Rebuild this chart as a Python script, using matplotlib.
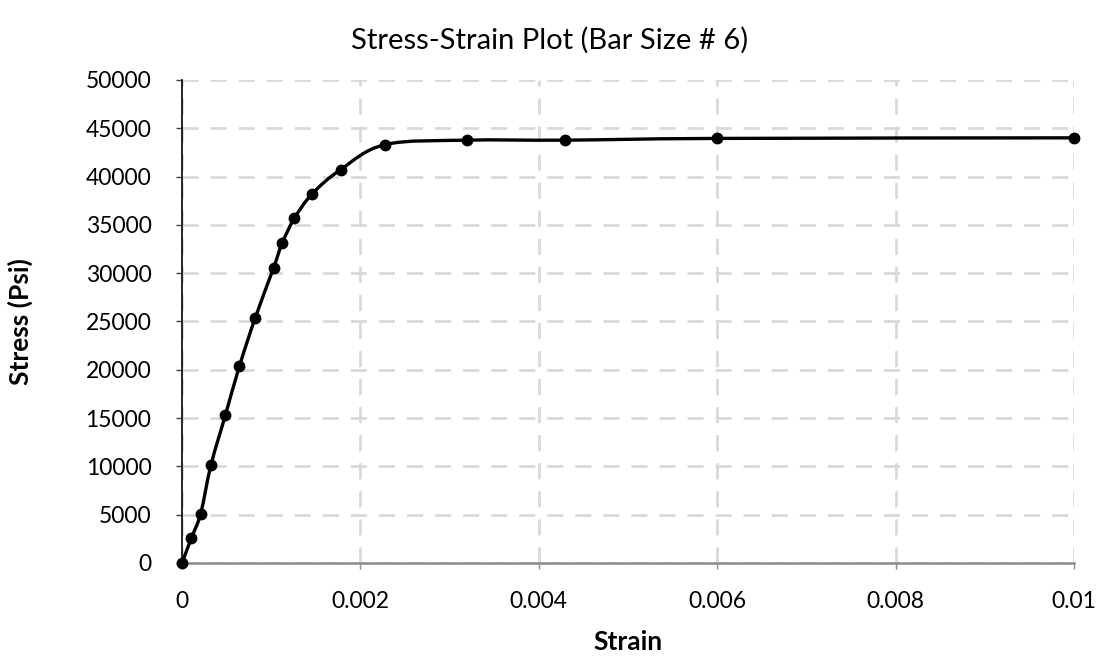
import numpy as np
import matplotlib.pyplot as plt
from matplotlib.path import Path
from matplotlib.patches import PathPatch

# datos
strain = [0, 0.000105, 0.000209, 0.000325, 0.000486, 0.000643, 0.000822,
          0.001028, 0.001122, 0.00126, 0.00146, 0.00178, 0.00228,
          0.0032, 0.00429, 0.0060, 0.01]
stress = [0, 2580, 5100, 10150, 15290, 20350, 25410,
          30580, 33090, 35680, 38220, 40730, 43320,
          43770, 43770, 43950, 44010]

x_ticks = [0, 0.002, 0.004, 0.006, 0.008, 0.01]
x_labels = ['0', '0.002', '0.004', '0.006', '0.008', '0.01']
y_ticks = list(range(0, 50001, 5000))

plt.rcParams['font.family'] = ['Lato', 'DejaVu Sans']

fig = plt.figure(figsize=(10.99, 6.61), dpi=100)
ax = fig.add_axes([0.1656, 0.1483, 0.8117, 0.7307])


# linea suavizada tipo excel (bezier cardinal)
def suave(xs, ys, t=1 / 6):
    pts = np.column_stack([xs, ys]).astype(float)
    verts = [pts[0]]
    codes = [Path.MOVETO]
    n = len(pts)
    for i in range(n - 1):
        p0 = pts[i - 1] if i > 0 else pts[i]
        p1, p2 = pts[i], pts[i + 1]
        p3 = pts[i + 2] if i + 2 < n else pts[i + 1]
        c1 = p1 + (p2 - p0) * t
        c2 = p2 - (p3 - p1) * t
        verts += [c1, c2, p2]
        codes += [Path.CURVE4] * 3
    return Path(verts, codes)


ax.add_patch(PathPatch(suave(strain, stress), fill=False, edgecolor='black',
                       lw=2.4, zorder=3, capstyle='round', joinstyle='round'))
ax.plot(strain, stress, 'o', color='black', ms=7.5, zorder=4, clip_on=False)

ax.set_xlim(0, 0.01)
ax.set_ylim(0, 50000)
ax.set_xticks(x_ticks)
ax.set_xticklabels(x_labels)
ax.set_yticks(y_ticks)

ax.grid(True, color='#d9d9d9', lw=2.0, ls=(0, (5.8, 4.3)), zorder=0)
ax.set_axisbelow(True)

for s in ['top', 'right']:
    ax.spines[s].set_visible(False)
ax.spines['left'].set_color('black')
ax.spines['left'].set_linewidth(1.2)
ax.spines['bottom'].set_color('#8c8c8c')
ax.spines['bottom'].set_linewidth(1.8)

ax.tick_params(axis='y', length=4, width=1, color='#404040', labelsize=16.5, pad=18)
ax.tick_params(axis='x', length=4, width=1, color='#8c8c8c', labelsize=16.5, pad=16)

ax.set_xlabel('Strain', fontsize=19, fontweight='bold', labelpad=13)
ax.set_ylabel('Stress (Psi)', fontsize=19, fontweight='bold', labelpad=38)
fig.text(0.5, 1 - 40 / 661, 'Stress-Strain Plot (Bar Size # 6)', fontsize=21,
         ha='center', va='center')

fig.savefig('out.png', dpi=100)
